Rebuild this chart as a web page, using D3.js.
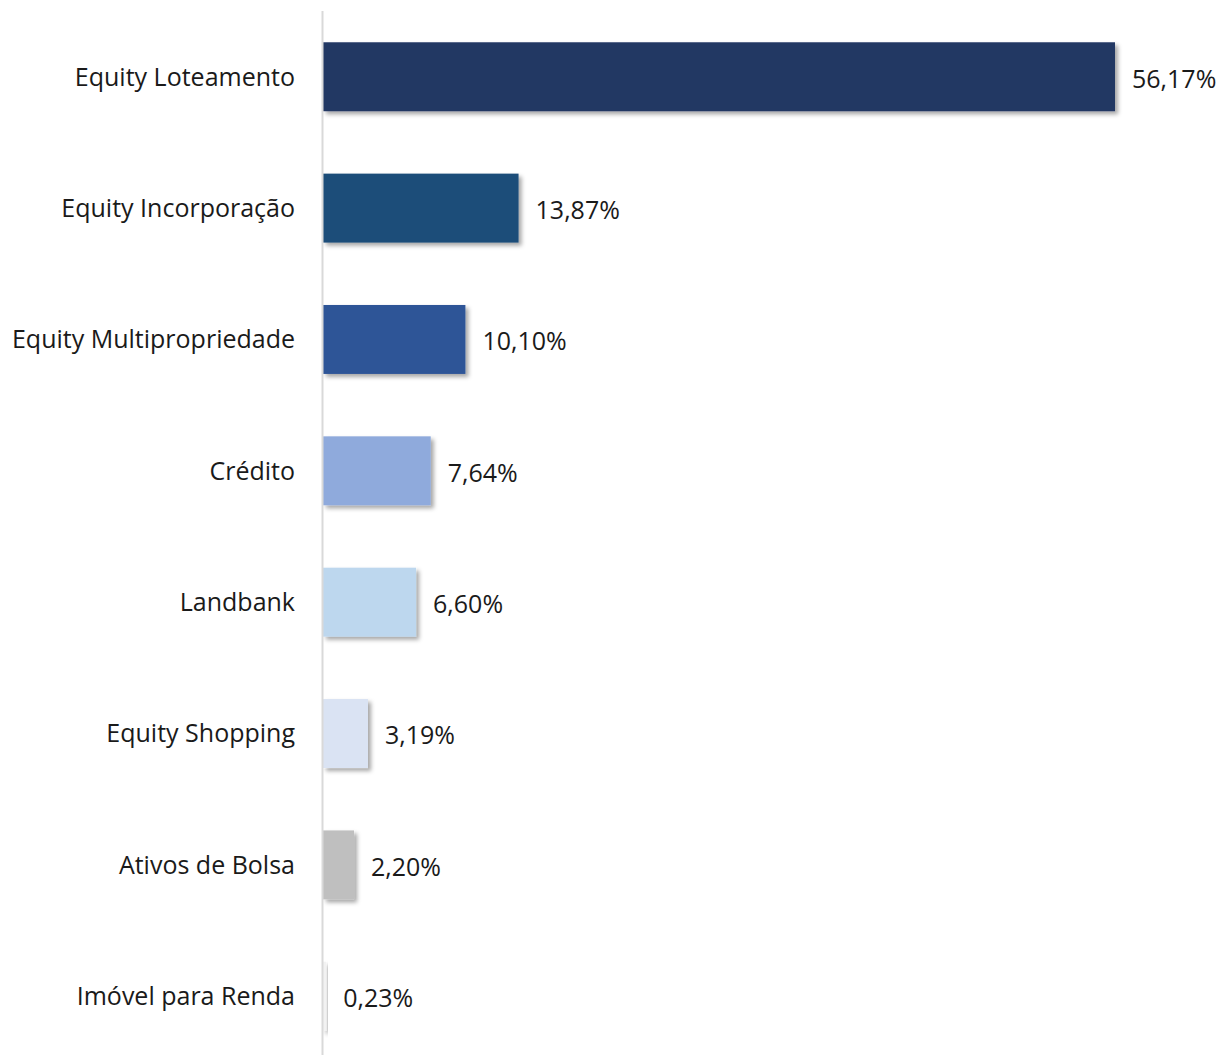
<!DOCTYPE html>
<html><head>
<meta charset="utf-8">
<script src="https://d3js.org/d3.v7.min.js"></script>
<style>
  body { margin: 0; background: #fff; }
  svg text { font-family: "Open Sans", "Noto Sans", sans-serif; fill: #1a1a1a; }
</style>
</head>
<body>
<svg id="chart" width="1218" height="1055"></svg>
<script>
  // data
  const categories = ["Equity Loteamento", "Equity Incorporação", "Equity Multipropriedade",
                      "Crédito", "Landbank", "Equity Shopping", "Ativos de Bolsa", "Imóvel para Renda"];
  const values = [56.17, 13.87, 10.10, 7.64, 6.60, 3.19, 2.20, 0.23];
  const colors = ["#203864", "#1F4E79", "#2F5597", "#8FAADC", "#BDD7EE", "#DAE3F3", "#BFBFBF", "#F2F2F2"];

  const svg = d3.select("svg#chart");
  const left = 323;

  // shadow like the office chart style
  const defs = svg.append("defs");
  defs.append("filter").attr("id", "shadow")
      .attr("x", "-20%").attr("y", "-20%").attr("width", "150%").attr("height", "150%")
    .append("feDropShadow")
      .attr("dx", 3).attr("dy", 3).attr("stdDeviation", 2)
      .attr("flood-color", "#000").attr("flood-opacity", 0.35);

  const data = categories.map((c, i) => ({cat: c, val: values[i], col: colors[i]}));

  const y = d3.scaleBand().domain(categories).range([16, 1057]).paddingInner(0.475).paddingOuter(0.2);
  const x = d3.scaleLinear().domain([0, 56.17]).range([0, 792]);

  const chart = svg.append("g").attr("transform", "translate(" + left + ",0)");

  chart.selectAll("rect.bar").data(data).join("rect")
    .attr("class", "bar")
    .attr("x", 0)
    .attr("y", d => y(d.cat))
    .attr("width", d => x(d.val))
    .attr("height", y.bandwidth())
    .attr("fill", d => d.col)
    .attr("filter", "url(#shadow)");

  // value labels
  chart.selectAll("text.val").data(data).join("text")
    .attr("class", "val")
    .attr("x", d => x(d.val) + 17)
    .attr("y", d => y(d.cat) + y.bandwidth() / 2 + 2)
    .attr("dy", "0.35em")
    .style("font-size", "25px")
    .text(d => d.val.toFixed(2).replace(".", ",") + "%");

  // category axis
  const axis = d3.axisLeft(y).tickSize(0).tickPadding(28);
  const gAxis = svg.append("g")
    .attr("transform", "translate(" + left + ",0)")
    .call(axis);
  gAxis.select(".domain").attr("stroke", "#d9d9d9").attr("stroke-width", 2).attr("d", "M-0.5,11V1055");
  gAxis.selectAll(".tick text")
    .style("font-size", "25px")
    .style("font-family", "'Open Sans', 'Noto Sans', sans-serif")
    .attr("fill", "#1a1a1a")
    .attr("dy", "0.35em");
</script>
</body></html>
